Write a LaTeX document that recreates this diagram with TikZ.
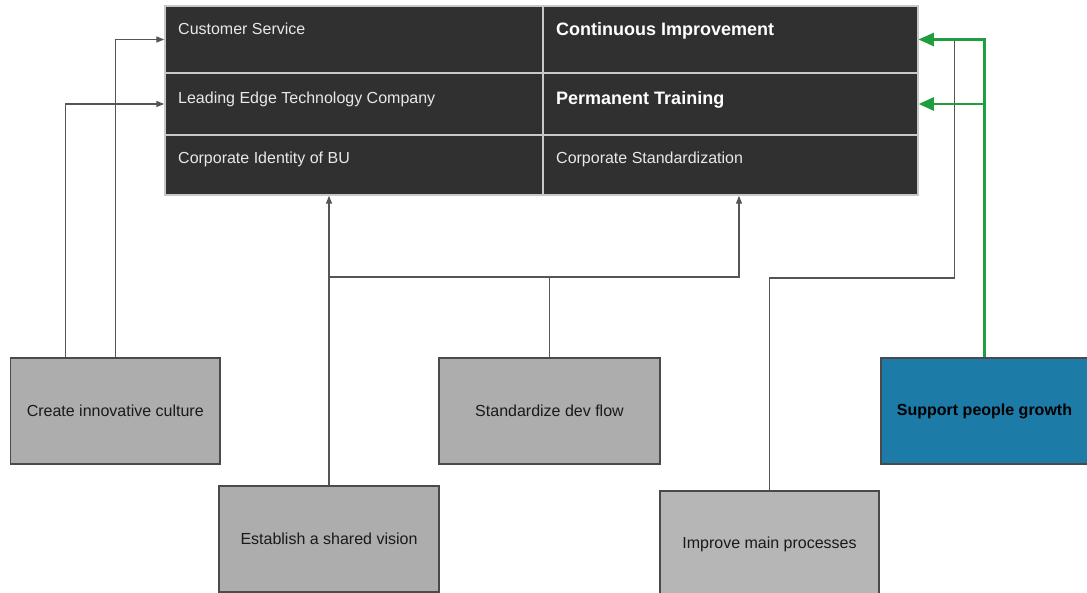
\documentclass[tikz,border=0pt]{standalone}
\usepackage{fontspec}
\setmainfont{Liberation Sans}
\usetikzlibrary{arrows.meta}
\definecolor{cellfill}{HTML}{303030}
\definecolor{cellline}{HTML}{C8C8C8}
\definecolor{celltxt}{HTML}{E8E8E8}
\definecolor{boxgray}{HTML}{ADADAD}
\definecolor{boxgrayl}{HTML}{B6B6B6}
\definecolor{boxline}{HTML}{4A4A4A}
\definecolor{boxblue}{HTML}{1C7BA7}
\definecolor{connline}{HTML}{555555}
\definecolor{greenline}{HTML}{1E9E3E}
\definecolor{boxtxt}{HTML}{1A1A1A}
\tikzset{
  cell/.style={draw=cellline, fill=cellfill, line width=1.5pt, inner sep=0pt},
  celltext/.style={text=celltxt, anchor=base west, inner sep=0pt, font=\fontsize{16}{19}\selectfont},
  celltextb/.style={celltext, font=\fontsize{18}{21}\selectfont\bfseries, text=white},
  goalbox/.style={draw=boxline, fill=boxgray, line width=1.3pt, inner sep=0pt, text=boxtxt, font=\fontsize{16}{19}\selectfont},
  conn/.style={draw=connline, line width=1.4pt, -{Triangle[length=8pt,width=6pt]}},
  connplain/.style={draw=connline, line width=1.4pt},
  gconn/.style={draw=greenline, line width=2.5pt, -{Triangle[length=15pt,width=13pt]}}
}
\begin{document}
\begin{tikzpicture}[x=1pt,y=-1pt]
\useasboundingbox (0,0) rectangle (1087,593);
% table cells
\node[cell, minimum width=378pt, minimum height=67pt] (cs) at (354,39.5) {};
\node[cell, minimum width=378pt, minimum height=62pt] (le) at (354,104) {};
\node[cell, minimum width=378pt, minimum height=60pt] (ci) at (354,165) {};
\node[cell, minimum width=375pt, minimum height=67pt] (cimp) at (730.5,39.5) {};
\node[cell, minimum width=375pt, minimum height=62pt] (pt) at (730.5,104) {};
\node[cell, minimum width=375pt, minimum height=60pt] (cstd) at (730.5,165) {};
% cell texts
\node[celltext] (tcs) at (178,35) {Customer Service};
\node[celltext] (tle) at (178,104) {Leading Edge Technology Company};
\node[celltext] (tci) at (178,164) {Corporate Identity of BU};
\node[celltextb] (tcimp) at (556,36) {Continuous Improvement};
\node[celltextb] (tpt) at (556,105) {Permanent Training};
\node[celltext] (tcstd) at (556,164) {Corporate Standardization};
% goal boxes
\node[goalbox, minimum width=209.5pt, minimum height=106pt] (cic) at (115.25,411) {Create innovative culture};
\node[goalbox, minimum width=220pt, minimum height=106pt] (esv) at (329,539) {Establish a shared vision};
\node[goalbox, minimum width=221pt, minimum height=106pt] (sdf) at (549.5,411) {Standardize dev flow};
\node[goalbox, fill=boxgrayl, minimum width=219pt, minimum height=106pt] (imp) at (769.5,544) {Improve main processes};
\node[goalbox, fill=boxblue, font=\fontsize{16}{19}\selectfont\bfseries, text=black, minimum width=207pt, minimum height=106pt] (spg) at (984.5,411) {Support people growth};
% connectors
\draw[conn] (cic.north) |- (cs.west);
\draw[conn] ([xshift=-50pt]cic.north) |- (le.west);
\draw[conn] (esv.north) -- (esv.north |- ci.south);
\coordinate (jn) at (sdf.north |- 0,277);
\draw[connplain] (sdf.north) -- (jn) -- (esv.north |- jn);
\draw[conn] (jn) -| ([xshift=8.5pt]cstd.south);
\coordinate (jimp) at (imp.north |- 0,278);
\draw[conn] (imp.north) -- (jimp) -| ([xshift=36pt]cimp.east) -- (cimp.east);
\draw[gconn] (spg.north) |- (cimp.east);
\draw[gconn] (spg.north) |- (pt.east);
\end{tikzpicture}
\end{document}
